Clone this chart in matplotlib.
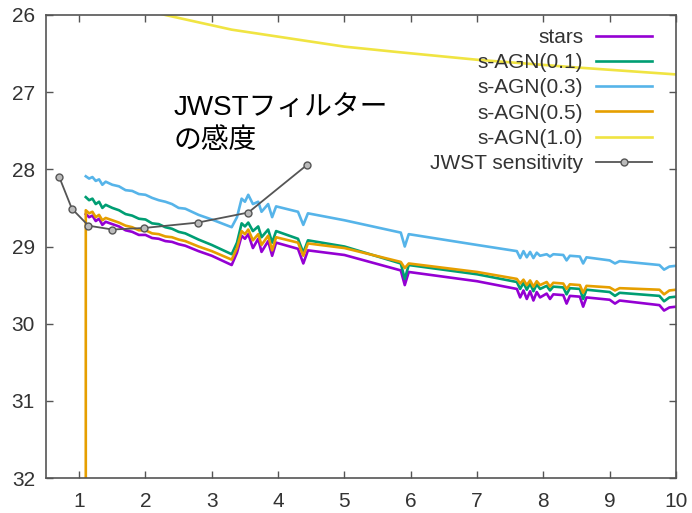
import matplotlib
matplotlib.use("Agg")
import matplotlib.pyplot as plt

# wavelength grid (micron) shared by the model spectra
wave = [1.10, 1.15, 1.20, 1.25, 1.30, 1.35, 1.40, 1.50, 1.60, 1.70,
        1.80, 1.90, 2.00, 2.10, 2.20, 2.30, 2.40, 2.50, 2.60, 2.80,
        3.00, 3.30, 3.38, 3.45, 3.50, 3.55, 3.62, 3.70, 3.75, 3.85,
        3.91, 3.97, 4.30, 4.38, 4.45, 5.00, 5.85, 5.91, 5.97, 7.00,
        7.60, 7.65, 7.70, 7.75, 7.80, 7.85, 7.90, 7.95, 8.05, 8.10,
        8.15, 8.30, 8.35, 8.40, 8.55, 8.60, 8.65, 9.00, 9.08, 9.15,
        9.75, 9.82, 9.90, 10.0]

stars = [28.58, 28.62, 28.60, 28.67, 28.64, 28.72, 28.68, 28.71, 28.74, 28.79,
         28.81, 28.85, 28.85, 28.89, 28.90, 28.93, 28.94, 28.97, 28.99, 29.06,
         29.12, 29.24, 29.08, 28.86, 28.90, 28.84, 29.02, 28.90, 29.07, 28.93,
         29.12, 28.95, 29.03, 29.22, 29.05, 29.11, 29.31, 29.50, 29.33, 29.45,
         29.55, 29.66, 29.57, 29.68, 29.58, 29.70, 29.59, 29.66, 29.61, 29.68,
         29.62, 29.63, 29.74, 29.64, 29.65, 29.78, 29.66, 29.69, 29.74, 29.70,
         29.76, 29.83, 29.79, 29.78]

agn01 = [28.36, 28.40, 28.38, 28.45, 28.42, 28.50, 28.46, 28.50, 28.53, 28.58,
         28.60, 28.64, 28.65, 28.70, 28.71, 28.75, 28.77, 28.81, 28.83, 28.91,
         28.98, 29.10, 28.95, 28.70, 28.74, 28.69, 28.80, 28.74, 28.88, 28.78,
         28.95, 28.80, 28.90, 29.08, 28.92, 29.00, 29.22, 29.42, 29.24, 29.36,
         29.46, 29.55, 29.47, 29.56, 29.48, 29.58, 29.49, 29.55, 29.51, 29.57,
         29.52, 29.53, 29.62, 29.54, 29.55, 29.68, 29.56, 29.59, 29.64, 29.60,
         29.64, 29.71, 29.66, 29.65]

agn03 = [28.09, 28.12, 28.10, 28.15, 28.13, 28.20, 28.16, 28.20, 28.22, 28.27,
         28.28, 28.32, 28.33, 28.37, 28.40, 28.42, 28.45, 28.50, 28.51, 28.59,
         28.65, 28.75, 28.62, 28.38, 28.42, 28.33, 28.45, 28.42, 28.55, 28.45,
         28.62, 28.48, 28.55, 28.72, 28.57, 28.66, 28.82, 29.00, 28.84, 28.98,
         29.06, 29.15, 29.06, 29.14, 29.07, 29.15, 29.08, 29.12, 29.10, 29.13,
         29.10, 29.11, 29.18, 29.12, 29.13, 29.22, 29.14, 29.18, 29.22, 29.19,
         29.24, 29.30, 29.26, 29.25]

# s-AGN(0.5) starts from far below the frame at 1.1 micron
wave_agn05 = [1.10] + wave
agn05 = [33.00,
         28.53, 28.57, 28.55, 28.62, 28.59, 28.66, 28.63, 28.66, 28.69, 28.73,
         28.75, 28.79, 28.79, 28.83, 28.84, 28.87, 28.88, 28.91, 28.93, 29.00,
         29.06, 29.17, 29.02, 28.80, 28.84, 28.78, 28.92, 28.84, 28.98, 28.86,
         29.05, 28.88, 28.95, 29.12, 28.96, 29.02, 29.20, 29.28, 29.22, 29.33,
         29.42, 29.48, 29.43, 29.50, 29.44, 29.52, 29.45, 29.50, 29.46, 29.52,
         29.47, 29.48, 29.55, 29.49, 29.50, 29.60, 29.51, 29.53, 29.57, 29.54,
         29.56, 29.62, 29.57, 29.56]

wave_agn10 = [1.10, 1.50, 2.00, 2.30, 3.30, 5.00, 5.80, 7.00, 8.50, 10.0]
agn10 = [25.30, 25.60, 25.93, 26.00, 26.19, 26.41, 26.48, 26.58, 26.68, 26.77]

jwst_wave = [0.70, 0.89, 1.14, 1.50, 1.98, 2.79, 3.55, 4.44]
jwst_mag = [28.10, 28.51, 28.73, 28.78, 28.76, 28.69, 28.56, 27.94]

fig = plt.figure(figsize=(6.92, 5.13), dpi=100)
ax = fig.add_axes([46 / 692, 1 - 478 / 513, 630 / 692, 463 / 513])

lw = 1.9
ax.plot(wave, stars, color="#9400d3", lw=lw, label="stars")
ax.plot(wave, agn01, color="#009e73", lw=lw, label="s-AGN(0.1)")
ax.plot(wave, agn03, color="#56b4e9", lw=lw, label="s-AGN(0.3)")
ax.plot(wave_agn05, agn05, color="#e69f00", lw=lw, label="s-AGN(0.5)")
ax.plot(wave_agn10, agn10, color="#f0e442", lw=lw, label="s-AGN(1.0)")
ax.plot(jwst_wave, jwst_mag, color="#555555", lw=1.3, marker="o", ms=5,
        mfc="#bbbbbb", mec="#555555", mew=1.0, label="JWST sensitivity")

ax.set_xlim(0.5, 10)
ax.set_ylim(32, 26)
ax.set_xticks(range(1, 11))
ax.set_yticks(range(26, 33))

for s in ax.spines.values():
    s.set_color("#555555")
    s.set_linewidth(1.2)
ax.tick_params(direction="in", top=True, right=True, length=5, width=1.0,
               color="#555555", labelcolor="#333333", labelsize=15)
ax.tick_params(axis="x", pad=10)
ax.tick_params(axis="y", pad=8)
for lab in ax.get_xticklabels() + ax.get_yticklabels():
    lab.set_family("Liberation Sans")

ax.text(2.42, 27.04, "JWSTフィルター\nの感度", fontsize=20, va="top", ha="left",
        family=["Liberation Sans", "Noto Sans CJK JP"], linespacing=1.35)

leg = ax.legend(loc="upper right", bbox_to_anchor=(0.962, 0.972), frameon=False,
                markerfirst=False, borderpad=0, borderaxespad=0, labelspacing=0.3,
                handlelength=2.7, handletextpad=0.6, numpoints=1,
                prop={"family": "Liberation Sans", "size": 15})
for t in leg.get_texts():
    t.set_color("#333333")
    t.set_ha("right")

fig.savefig("out.png", dpi=100)
